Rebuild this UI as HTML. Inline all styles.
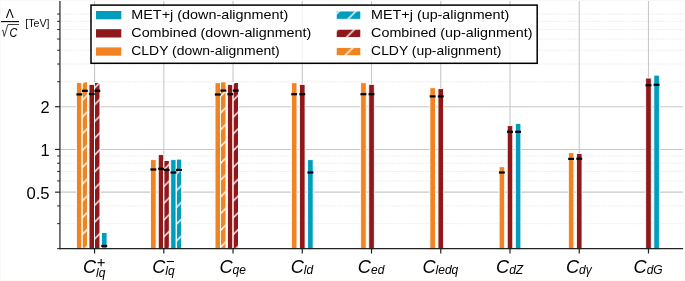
<!DOCTYPE html><html><head><meta charset="utf-8"><style>html,body{margin:0;padding:0;background:#fff;}svg{display:block;will-change:transform;}text{font-family:"Liberation Sans",sans-serif;}</style></head><body>
<svg width="685" height="281" viewBox="0 0 685 281">
<defs>
<pattern id="h" patternUnits="userSpaceOnUse" x="14.7" y="0" width="16.78" height="16.78"><path d="M-2,18.78 L18.78,-2 M-2,2 L2,-2 M14.780000000000001,18.78 L18.78,14.780000000000001" stroke="#fff" stroke-width="1.4" fill="none"/></pattern>
</defs>
<rect width="685" height="281" fill="#fff"/>
<line x1="59.94" x2="683.10" y1="223.65" y2="223.65" stroke="#e4e4e4" stroke-width="0.9" stroke-dasharray="1.1 1.1"/>
<line x1="59.94" x2="683.10" y1="205.92" y2="205.92" stroke="#e4e4e4" stroke-width="0.9" stroke-dasharray="1.1 1.1"/>
<line x1="59.94" x2="683.10" y1="180.93" y2="180.93" stroke="#e4e4e4" stroke-width="0.9" stroke-dasharray="1.1 1.1"/>
<line x1="59.94" x2="683.10" y1="171.43" y2="171.43" stroke="#e4e4e4" stroke-width="0.9" stroke-dasharray="1.1 1.1"/>
<line x1="59.94" x2="683.10" y1="163.20" y2="163.20" stroke="#e4e4e4" stroke-width="0.9" stroke-dasharray="1.1 1.1"/>
<line x1="59.94" x2="683.10" y1="155.94" y2="155.94" stroke="#e4e4e4" stroke-width="0.9" stroke-dasharray="1.1 1.1"/>
<line x1="59.94" x2="683.10" y1="81.75" y2="81.75" stroke="#e4e4e4" stroke-width="0.9" stroke-dasharray="1.1 1.1"/>
<line x1="59.94" x2="683.10" y1="64.02" y2="64.02" stroke="#e4e4e4" stroke-width="0.9" stroke-dasharray="1.1 1.1"/>
<line x1="59.94" x2="683.10" y1="50.27" y2="50.27" stroke="#e4e4e4" stroke-width="0.9" stroke-dasharray="1.1 1.1"/>
<line x1="59.94" x2="683.10" y1="39.03" y2="39.03" stroke="#e4e4e4" stroke-width="0.9" stroke-dasharray="1.1 1.1"/>
<line x1="59.94" x2="683.10" y1="29.53" y2="29.53" stroke="#e4e4e4" stroke-width="0.9" stroke-dasharray="1.1 1.1"/>
<line x1="59.94" x2="683.10" y1="21.30" y2="21.30" stroke="#e4e4e4" stroke-width="0.9" stroke-dasharray="1.1 1.1"/>
<line x1="59.94" x2="683.10" y1="14.04" y2="14.04" stroke="#e4e4e4" stroke-width="0.9" stroke-dasharray="1.1 1.1"/>
<line x1="59.94" x2="683.10" y1="192.17" y2="192.17" stroke="#c8c8c8" stroke-width="1.1"/>
<line x1="59.94" x2="683.10" y1="149.45" y2="149.45" stroke="#c8c8c8" stroke-width="1.1"/>
<line x1="59.94" x2="683.10" y1="106.73" y2="106.73" stroke="#c8c8c8" stroke-width="1.1"/>
<line x1="94.56" x2="94.56" y1="1.00" y2="248.63" stroke="#c8c8c8" stroke-width="1.1"/>
<line x1="163.80" x2="163.80" y1="1.00" y2="248.63" stroke="#c8c8c8" stroke-width="1.1"/>
<line x1="233.04" x2="233.04" y1="1.00" y2="248.63" stroke="#c8c8c8" stroke-width="1.1"/>
<line x1="302.28" x2="302.28" y1="1.00" y2="248.63" stroke="#c8c8c8" stroke-width="1.1"/>
<line x1="371.52" x2="371.52" y1="1.00" y2="248.63" stroke="#c8c8c8" stroke-width="1.1"/>
<line x1="440.76" x2="440.76" y1="1.00" y2="248.63" stroke="#c8c8c8" stroke-width="1.1"/>
<line x1="510.00" x2="510.00" y1="1.00" y2="248.63" stroke="#c8c8c8" stroke-width="1.1"/>
<line x1="579.24" x2="579.24" y1="1.00" y2="248.63" stroke="#c8c8c8" stroke-width="1.1"/>
<line x1="648.48" x2="648.48" y1="1.00" y2="248.63" stroke="#c8c8c8" stroke-width="1.1"/>
<rect x="76.56" y="82.65" width="5.54" height="166.98" fill="#F28322" stroke="#fff" stroke-width="0.85"/>
<rect x="82.10" y="81.75" width="5.54" height="167.88" fill="#F28322" stroke="#fff" stroke-width="0.85"/>
<rect x="82.10" y="81.75" width="5.54" height="167.88" fill="url(#h)" stroke="#fff" stroke-width="0.85"/>
<rect x="89.02" y="84.45" width="5.54" height="165.18" fill="#8E181A" stroke="#fff" stroke-width="0.85"/>
<rect x="94.56" y="82.45" width="5.54" height="167.18" fill="#8E181A" stroke="#fff" stroke-width="0.85"/>
<rect x="94.56" y="82.45" width="5.54" height="167.18" fill="url(#h)" stroke="#fff" stroke-width="0.85"/>
<rect x="101.48" y="232.55" width="5.54" height="17.08" fill="#009DBD" stroke="#fff" stroke-width="0.85"/>
<rect x="150.57" y="159.65" width="5.54" height="89.98" fill="#F28322" stroke="#fff" stroke-width="0.85"/>
<rect x="158.26" y="154.65" width="5.54" height="94.98" fill="#8E181A" stroke="#fff" stroke-width="0.85"/>
<rect x="163.80" y="160.35" width="5.54" height="89.28" fill="#8E181A" stroke="#fff" stroke-width="0.85"/>
<rect x="163.80" y="160.35" width="5.54" height="89.28" fill="url(#h)" stroke="#fff" stroke-width="0.85"/>
<rect x="170.72" y="159.65" width="5.54" height="89.98" fill="#009DBD" stroke="#fff" stroke-width="0.85"/>
<rect x="176.26" y="158.95" width="5.54" height="90.68" fill="#009DBD" stroke="#fff" stroke-width="0.85"/>
<rect x="176.26" y="158.95" width="5.54" height="90.68" fill="url(#h)" stroke="#fff" stroke-width="0.85"/>
<rect x="215.04" y="82.75" width="5.54" height="166.88" fill="#F28322" stroke="#fff" stroke-width="0.85"/>
<rect x="220.58" y="81.75" width="5.54" height="167.88" fill="#F28322" stroke="#fff" stroke-width="0.85"/>
<rect x="220.58" y="81.75" width="5.54" height="167.88" fill="url(#h)" stroke="#fff" stroke-width="0.85"/>
<rect x="227.50" y="84.45" width="5.54" height="165.18" fill="#8E181A" stroke="#fff" stroke-width="0.85"/>
<rect x="233.04" y="82.55" width="5.54" height="167.08" fill="#8E181A" stroke="#fff" stroke-width="0.85"/>
<rect x="233.04" y="82.55" width="5.54" height="167.08" fill="url(#h)" stroke="#fff" stroke-width="0.85"/>
<rect x="291.41" y="82.75" width="5.54" height="166.88" fill="#F28322" stroke="#fff" stroke-width="0.85"/>
<rect x="299.51" y="84.35" width="5.54" height="165.28" fill="#8E181A" stroke="#fff" stroke-width="0.85"/>
<rect x="307.61" y="159.65" width="5.54" height="89.98" fill="#009DBD" stroke="#fff" stroke-width="0.85"/>
<rect x="360.65" y="82.75" width="5.54" height="166.88" fill="#F28322" stroke="#fff" stroke-width="0.85"/>
<rect x="368.75" y="84.35" width="5.54" height="165.28" fill="#8E181A" stroke="#fff" stroke-width="0.85"/>
<rect x="429.89" y="87.75" width="5.54" height="161.88" fill="#F28322" stroke="#fff" stroke-width="0.85"/>
<rect x="437.99" y="88.65" width="5.54" height="160.98" fill="#8E181A" stroke="#fff" stroke-width="0.85"/>
<rect x="499.13" y="166.75" width="5.54" height="82.88" fill="#F28322" stroke="#fff" stroke-width="0.85"/>
<rect x="507.23" y="125.65" width="5.54" height="123.98" fill="#8E181A" stroke="#fff" stroke-width="0.85"/>
<rect x="515.33" y="123.45" width="5.54" height="126.18" fill="#009DBD" stroke="#fff" stroke-width="0.85"/>
<rect x="568.37" y="152.65" width="5.54" height="96.98" fill="#F28322" stroke="#fff" stroke-width="0.85"/>
<rect x="576.47" y="153.55" width="5.54" height="96.08" fill="#8E181A" stroke="#fff" stroke-width="0.85"/>
<rect x="645.71" y="78.05" width="5.54" height="171.58" fill="#8E181A" stroke="#fff" stroke-width="0.85"/>
<rect x="653.81" y="75.15" width="5.54" height="174.48" fill="#009DBD" stroke="#fff" stroke-width="0.85"/>
<rect x="76.39" y="93.30" width="5.89" height="2.2" fill="#000"/>
<rect x="81.93" y="89.70" width="5.89" height="2.2" fill="#000"/>
<rect x="88.85" y="92.90" width="5.89" height="2.2" fill="#000"/>
<rect x="94.39" y="89.70" width="5.89" height="2.2" fill="#000"/>
<rect x="101.31" y="244.80" width="5.89" height="2.2" fill="#000"/>
<rect x="150.40" y="168.40" width="5.89" height="2.2" fill="#000"/>
<rect x="158.09" y="167.70" width="5.89" height="2.2" fill="#000"/>
<rect x="163.63" y="168.80" width="5.89" height="2.2" fill="#000"/>
<rect x="170.55" y="171.40" width="5.89" height="2.2" fill="#000"/>
<rect x="176.09" y="168.80" width="5.89" height="2.2" fill="#000"/>
<rect x="214.87" y="93.40" width="5.89" height="2.2" fill="#000"/>
<rect x="220.41" y="89.50" width="5.89" height="2.2" fill="#000"/>
<rect x="227.32" y="93.10" width="5.89" height="2.2" fill="#000"/>
<rect x="232.87" y="89.50" width="5.89" height="2.2" fill="#000"/>
<rect x="291.23" y="93.10" width="5.89" height="2.2" fill="#000"/>
<rect x="299.33" y="93.10" width="5.89" height="2.2" fill="#000"/>
<rect x="307.44" y="171.40" width="5.89" height="2.2" fill="#000"/>
<rect x="360.47" y="93.10" width="5.89" height="2.2" fill="#000"/>
<rect x="368.57" y="93.10" width="5.89" height="2.2" fill="#000"/>
<rect x="429.71" y="95.30" width="5.89" height="2.2" fill="#000"/>
<rect x="437.81" y="95.30" width="5.89" height="2.2" fill="#000"/>
<rect x="498.95" y="171.40" width="5.89" height="2.2" fill="#000"/>
<rect x="507.05" y="130.70" width="5.89" height="2.2" fill="#000"/>
<rect x="515.15" y="130.70" width="5.89" height="2.2" fill="#000"/>
<rect x="568.19" y="157.80" width="5.89" height="2.2" fill="#000"/>
<rect x="576.29" y="157.60" width="5.89" height="2.2" fill="#000"/>
<rect x="645.53" y="84.20" width="5.89" height="2.2" fill="#000"/>
<rect x="653.63" y="83.70" width="5.89" height="2.2" fill="#000"/>
<line x1="59.94" x2="59.94" y1="1.00" y2="249.23" stroke="#222" stroke-width="1.2"/>
<line x1="59.34" x2="683.10" y1="248.63" y2="248.63" stroke="#222" stroke-width="1.2"/>
<line x1="55.04" x2="59.94" y1="192.17" y2="192.17" stroke="#222" stroke-width="1.2"/>
<line x1="55.04" x2="59.94" y1="149.45" y2="149.45" stroke="#222" stroke-width="1.2"/>
<line x1="55.04" x2="59.94" y1="106.73" y2="106.73" stroke="#222" stroke-width="1.2"/>
<line x1="57.14" x2="59.94" y1="223.65" y2="223.65" stroke="#222" stroke-width="1.0"/>
<line x1="57.14" x2="59.94" y1="205.92" y2="205.92" stroke="#222" stroke-width="1.0"/>
<line x1="57.14" x2="59.94" y1="180.93" y2="180.93" stroke="#222" stroke-width="1.0"/>
<line x1="57.14" x2="59.94" y1="171.43" y2="171.43" stroke="#222" stroke-width="1.0"/>
<line x1="57.14" x2="59.94" y1="163.20" y2="163.20" stroke="#222" stroke-width="1.0"/>
<line x1="57.14" x2="59.94" y1="155.94" y2="155.94" stroke="#222" stroke-width="1.0"/>
<line x1="57.14" x2="59.94" y1="81.75" y2="81.75" stroke="#222" stroke-width="1.0"/>
<line x1="57.14" x2="59.94" y1="64.02" y2="64.02" stroke="#222" stroke-width="1.0"/>
<line x1="57.14" x2="59.94" y1="50.27" y2="50.27" stroke="#222" stroke-width="1.0"/>
<line x1="57.14" x2="59.94" y1="39.03" y2="39.03" stroke="#222" stroke-width="1.0"/>
<line x1="57.14" x2="59.94" y1="29.53" y2="29.53" stroke="#222" stroke-width="1.0"/>
<line x1="57.14" x2="59.94" y1="21.30" y2="21.30" stroke="#222" stroke-width="1.0"/>
<line x1="57.14" x2="59.94" y1="14.04" y2="14.04" stroke="#222" stroke-width="1.0"/>
<line x1="57.14" x2="59.94" y1="248.63" y2="248.63" stroke="#222" stroke-width="1.0"/>
<line x1="94.56" x2="94.56" y1="248.63" y2="253.53" stroke="#222" stroke-width="1.2"/>
<line x1="163.80" x2="163.80" y1="248.63" y2="253.53" stroke="#222" stroke-width="1.2"/>
<line x1="233.04" x2="233.04" y1="248.63" y2="253.53" stroke="#222" stroke-width="1.2"/>
<line x1="302.28" x2="302.28" y1="248.63" y2="253.53" stroke="#222" stroke-width="1.2"/>
<line x1="371.52" x2="371.52" y1="248.63" y2="253.53" stroke="#222" stroke-width="1.2"/>
<line x1="440.76" x2="440.76" y1="248.63" y2="253.53" stroke="#222" stroke-width="1.2"/>
<line x1="510.00" x2="510.00" y1="248.63" y2="253.53" stroke="#222" stroke-width="1.2"/>
<line x1="579.24" x2="579.24" y1="248.63" y2="253.53" stroke="#222" stroke-width="1.2"/>
<line x1="648.48" x2="648.48" y1="248.63" y2="253.53" stroke="#222" stroke-width="1.2"/>
<text x="49.64" y="198.59" font-size="16.4" text-anchor="end" textLength="23.2" lengthAdjust="spacingAndGlyphs" fill="#000">0.5</text>
<text x="49.64" y="155.87" font-size="16.4" text-anchor="end" fill="#000">1</text>
<text x="49.64" y="113.16" font-size="16.4" text-anchor="end" fill="#000">2</text>
<text x="94.16" y="272.7" font-size="18.2" font-style="italic" text-anchor="middle" fill="#000">C<tspan font-size="12.0" dy="4.6">lq</tspan></text>
<line x1="97.46" x2="104.76" y1="262.7" y2="262.7" stroke="#000" stroke-width="1.1"/>
<line x1="101.11" x2="101.11" y1="259.1" y2="266.3" stroke="#000" stroke-width="1.1"/>
<text x="163.40" y="272.7" font-size="18.2" font-style="italic" text-anchor="middle" fill="#000">C<tspan font-size="12.0" dy="2.5">lq</tspan></text>
<line x1="166.70" x2="174.00" y1="261.5" y2="261.5" stroke="#000" stroke-width="1.1"/>
<text x="232.64" y="272.7" font-size="18.2" font-style="italic" text-anchor="middle" fill="#000">C<tspan font-size="12.0" dy="1.0">qe</tspan></text>
<text x="301.88" y="272.7" font-size="18.2" font-style="italic" text-anchor="middle" fill="#000">C<tspan font-size="12.0" dy="1.0">ld</tspan></text>
<text x="371.12" y="272.7" font-size="18.2" font-style="italic" text-anchor="middle" fill="#000">C<tspan font-size="12.0" dy="1.0">ed</tspan></text>
<text x="440.36" y="272.7" font-size="18.2" font-style="italic" text-anchor="middle" fill="#000">C<tspan font-size="12.0" dy="1.0">ledq</tspan></text>
<text x="509.60" y="272.7" font-size="18.2" font-style="italic" text-anchor="middle" fill="#000">C<tspan font-size="12.0" dy="1.0">dZ</tspan></text>
<text x="578.84" y="272.7" font-size="18.2" font-style="italic" text-anchor="middle" fill="#000">C<tspan font-size="12.0" dy="1.0">dγ</tspan></text>
<text x="648.08" y="272.7" font-size="18.2" font-style="italic" text-anchor="middle" fill="#000">C<tspan font-size="12.0" dy="1.0">dG</tspan></text>
<text x="9.8" y="17.8" font-size="12" text-anchor="middle" fill="#000">Λ</text>
<line x1="1" x2="19" y1="21.6" y2="21.6" stroke="#000" stroke-width="1.1"/>
<path d="M1.8,30.8 L2.9,30.1 L4.2,36.4 L7.9,24.5 L19,24.5" fill="none" stroke="#000" stroke-width="0.75"/>
<text x="9.5" y="36.6" font-size="12.8" font-style="italic" textLength="7.9" lengthAdjust="spacingAndGlyphs" fill="#000">C</text>
<text x="25.3" y="26.6" font-size="10.1" textLength="24.3" lengthAdjust="spacingAndGlyphs" fill="#111">[TeV]</text>
<rect x="91.0" y="5.1" width="446.20" height="58.20" fill="#fff" fill-opacity="0.8" stroke="#000" stroke-width="1.5"/>
<rect x="96.0" y="11.00" width="25.3" height="8.3" fill="#009DBD"/>
<rect x="336.2" y="11.00" width="24.6" height="8.3" fill="#009DBD"/>
<rect x="336.2" y="11.00" width="24.6" height="8.3" fill="url(#h)" stroke="#fff" stroke-width="0.9"/>
<text x="131.3" y="18.90" font-size="13.2" textLength="157.0" lengthAdjust="spacingAndGlyphs" fill="#000">MET+j (down-alignment)</text>
<text x="371.1" y="18.90" font-size="13.2" textLength="138.2" lengthAdjust="spacingAndGlyphs" fill="#000">MET+j (up-alignment)</text>
<rect x="96.0" y="29.20" width="25.3" height="8.3" fill="#8E181A"/>
<rect x="336.2" y="29.20" width="24.6" height="8.3" fill="#8E181A"/>
<rect x="336.2" y="29.20" width="24.6" height="8.3" fill="url(#h)" stroke="#fff" stroke-width="0.9"/>
<text x="131.3" y="37.10" font-size="13.2" textLength="180.0" lengthAdjust="spacingAndGlyphs" fill="#000">Combined (down-alignment)</text>
<text x="371.1" y="37.10" font-size="13.2" textLength="161.4" lengthAdjust="spacingAndGlyphs" fill="#000">Combined (up-alignment)</text>
<rect x="96.0" y="47.40" width="25.3" height="8.3" fill="#F28322"/>
<rect x="336.2" y="47.40" width="24.6" height="8.3" fill="#F28322"/>
<rect x="336.2" y="47.40" width="24.6" height="8.3" fill="url(#h)" stroke="#fff" stroke-width="0.9"/>
<text x="131.3" y="55.30" font-size="13.2" textLength="148.4" lengthAdjust="spacingAndGlyphs" fill="#000">CLDY (down-alignment)</text>
<text x="371.1" y="55.30" font-size="13.2" textLength="130.3" lengthAdjust="spacingAndGlyphs" fill="#000">CLDY (up-alignment)</text>
<rect x="0.5" y="0.5" width="684" height="280" fill="none" stroke="#fbf8f8" stroke-width="1"/>
</svg></body></html>
